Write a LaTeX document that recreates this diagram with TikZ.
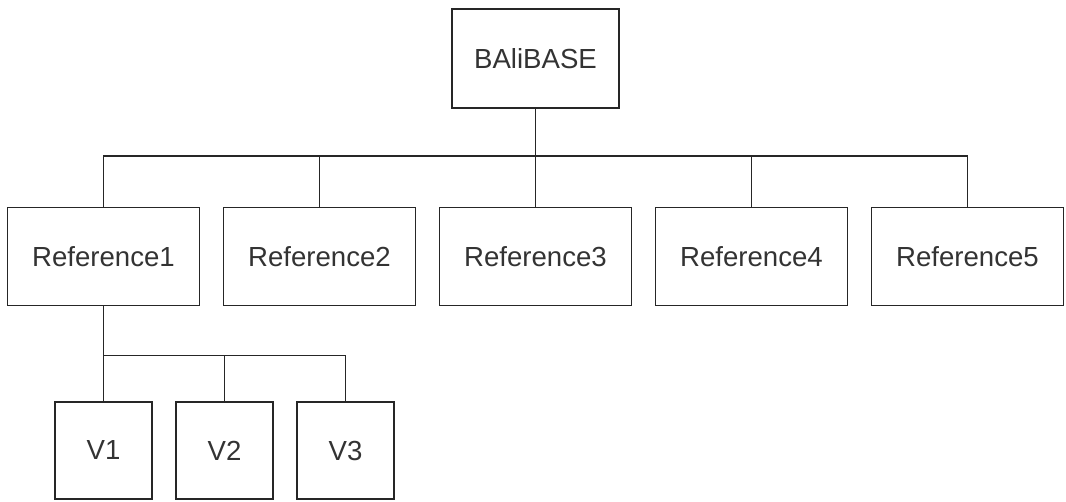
\documentclass[tikz,border=0pt]{standalone}
\usepackage{fontspec}
\setmainfont{Liberation Sans}
\usetikzlibrary{trees,positioning}

\begin{document}
\begin{tikzpicture}[x=0.5pt,y=-0.5pt,
	line width=0.8pt, draw=black!85,
	every node/.style = {shape=rectangle,draw=black!85,line width=0.9pt,align=center,text=black!80,
	  font=\fontsize{13.8pt}{16pt}\selectfont},
	rootbox/.style={minimum width=83.5pt,minimum height=49.5pt},
	refbox/.style={minimum width=96pt,minimum height=49pt},
	vbox/.style={minimum width=48.5pt,minimum height=48.5pt},
	vchild/.style={xshift=60.5pt},
	level 1/.style={sibling distance=108pt, level distance=99pt,
	  edge from parent path={(\tikzparentnode.south) -- ++(0,-23.5pt) -| (\tikzchildnode.north)}},
	level 2/.style={sibling distance=60.5pt, level distance=97pt,
	  edge from parent path={(\tikzparentnode.south) -- ++(0,-24.5pt) -| (\tikzchildnode.north)}}
	]
  \useasboundingbox (0,0) rectangle (1066,502);
  \node [rootbox] (root) at (535.5,58.5) {BAliBASE}
    child { node [refbox] (ref1) {Reference1}
    	child [vchild] { node [vbox] (v1) {V1} }
    	child [vchild] { node [vbox] (v2) {V2} }
    	child [vchild] { node [vbox] (v3) {V3} }}
    child { node [refbox] (ref2) {Reference2} }
    child { node [refbox] (ref3) {Reference3} }
    child { node [refbox] (ref4) {Reference4} }
    child { node [refbox] (ref5) {Reference5} };
\end{tikzpicture}
\end{document}
